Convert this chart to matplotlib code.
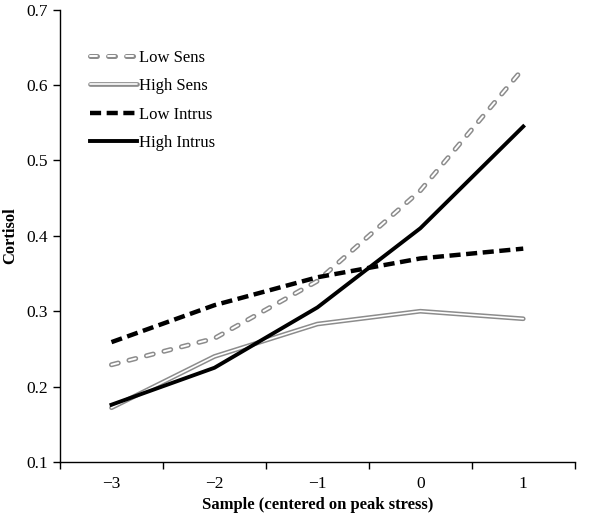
import numpy as np
import matplotlib
matplotlib.use("Agg")
import matplotlib.pyplot as plt
import matplotlib.patheffects as pe

plt.rcParams["font.family"] = ["Liberation Serif", "DejaVu Serif"]
plt.rcParams["lines.scale_dashes"] = False

samples = [-3, -2, -1, 0, 1]
low_sens = [0.229, 0.264, 0.340, 0.460, 0.622]
high_sens = [0.172, 0.240, 0.283, 0.300, 0.290]
low_intrus = [0.259, 0.308, 0.345, 0.370, 0.383]
high_intrus = [0.176, 0.225, 0.305, 0.410, 0.545]

fig = plt.figure(figsize=(6.02, 5.2), dpi=100)
ax = fig.add_axes([0.0997, 0.1115, 0.855, 0.870])

gray = "#8c8c8c"

# doubled gray lines: thick gray stroke with a white core
ax.plot(samples, low_sens, color="white", linewidth=1.4,
        dashes=(5.0, 8.0), dash_capstyle="round",
        path_effects=[pe.Stroke(linewidth=3.6, foreground=gray),
                      pe.Normal()],
        label="Low Sens")
ax.plot(samples, high_sens, color="white", linewidth=1.2,
        solid_capstyle="round",
        path_effects=[pe.Stroke(linewidth=3.4, foreground=gray),
                      pe.Normal()],
        label="High Sens")
ax.plot(samples, low_intrus, color="black", linewidth=3.2,
        dashes=(8.0, 4.0), dash_capstyle="butt", label="Low Intrus")
ax.plot(samples, high_intrus, color="black", linewidth=2.8,
        label="High Intrus")

ax.set_xlim(-3.5, 1.5)
ax.set_ylim(0.1, 0.7)

ax.set_xticks(np.arange(-3.5, 2.0, 1.0))
ax.set_xticklabels([])
ax.set_xticks(samples, minor=True)
ax.set_xticklabels(["\u22123", "\u22122", "\u22121", "0", "1"], minor=True)
ax.tick_params(axis="x", which="major", direction="out", length=5, width=1)
ax.tick_params(axis="x", which="minor", length=0, labelsize=12.5, pad=10)

ax.set_yticks(np.arange(0.1, 0.71, 0.1))
ax.set_yticklabels([f"{v:.1f}" for v in np.arange(0.1, 0.71, 0.1)])
ax.tick_params(axis="y", direction="out", length=5, width=1, labelsize=12.5)

for s in ["top", "right"]:
    ax.spines[s].set_visible(False)
for s in ["left", "bottom"]:
    ax.spines[s].set_linewidth(1)

ax.set_xlabel("Sample (centered on peak stress)", fontsize=12,
              fontweight="bold", labelpad=4)
ax.set_ylabel("Cortisol", fontsize=12, fontweight="bold", labelpad=6)

ax.legend(loc="upper left", bbox_to_anchor=(0.03, 0.945), frameon=False,
          fontsize=12, handlelength=2.8, handletextpad=0.1,
          labelspacing=0.75)

fig.savefig("out.png", dpi=100)
